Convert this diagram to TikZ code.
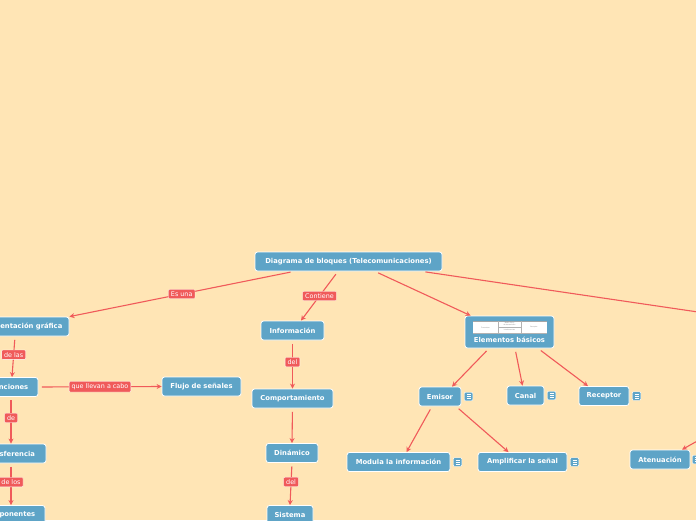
\documentclass[tikz,border=0pt]{standalone}
\usepackage{fontspec}
\setmainfont{DejaVu Sans}
\usetikzlibrary{arrows.meta}
\definecolor{bg}{RGB}{255,229,181}
\definecolor{nodeblue}{RGB}{94,164,199}
\definecolor{linkred}{RGB}{240,90,90}
\tikzset{
  concept/.style={draw=white, line width=0.8pt, fill=nodeblue, rounded corners=2.5pt,
    text=white, font=\fontsize{6.8}{7.5}\selectfont\bfseries, minimum height=19pt, inner sep=0pt},
  link/.style={draw=linkred, line width=1.1pt, shorten <=3.5pt, -{Stealth[length=5pt,width=5pt]}},
  plainlink/.style={draw=linkred, line width=1.1pt, shorten <=3.5pt},
  lbl/.style={fill=linkred, text=white, font=\fontsize{6.4}{7.2}\selectfont, inner xsep=2.5pt,
    inner ysep=2.2pt, rounded corners=1pt, draw=white, line width=0.3pt},
  note/.style={fill=nodeblue, draw=white, line width=0.4pt, rounded corners=1pt,
    minimum size=8.5pt, inner sep=0pt,
    path picture={
      \draw[white, line width=0.6pt]
        ([xshift=-2pt,yshift=2pt]path picture bounding box.center) -- ++(4pt,0)
        ([xshift=-2pt]path picture bounding box.center) -- ++(4pt,0)
        ([xshift=-2pt,yshift=-2pt]path picture bounding box.center) -- ++(4pt,0);}},
  tinytxt/.style={font=\fontsize{1.6}{1.8}\selectfont, text=gray, inner sep=0pt, align=center}
}
\begin{document}
\begin{tikzpicture}[x=1pt,y=-1pt]
\useasboundingbox (0,0) rectangle (696,520);
\clip (0,0) rectangle (696,520);
\fill[bg] (0,0) rectangle (696,520);

% concepts
\node[concept, minimum width=187pt] (root) at (348.5,261.5) {Diagrama de bloques (Telecomunicaciones)};
\node[concept, minimum width=102pt] (rep) at (18,326.5) {Representación gráfica};
\node[concept, minimum width=58pt] (fun) at (9,387) {Funciones};
\node[concept, minimum width=74pt] (trans) at (9,453.5) {Transferencia};
\node[concept, minimum width=72pt] (comp) at (9,515) {Componentes};
\node[concept, minimum width=79pt] (flujo) at (201.5,386.5) {Flujo de señales};
\node[concept, minimum width=63pt] (info) at (292.5,330.5) {Información};
\node[concept, minimum width=81pt] (compo) at (292.5,398.5) {Comportamiento};
\node[concept, minimum width=52pt] (din) at (292,453) {Dinámico};
\node[concept, minimum width=46pt] (sis) at (290,515) {Sistema};

\node[concept, minimum width=89pt, minimum height=32pt] (elem) at (509.5,332) {};
\node[text=white, font=\fontsize{6.8}{7.5}\selectfont\bfseries, inner sep=0pt] (elemtxt) at (509.5,339.5) {Elementos básicos};
% small embedded table
\fill[white] (473,321) rectangle (547,333);
\draw[gray!70, line width=0.8pt] (473,321.2) -- (547,321.2);
\draw[gray!60, line width=0.2pt] (498,321) -- (498,333) (521,321) -- (521,333) (498,327) -- (521,327)
  (473,333) -- (547,333);
\node[tinytxt] (t1) at (485.5,327.5) {Transmisor};
\node[tinytxt] (t2) at (509.5,324) {Medio físico\\de transmisión};
\node[tinytxt] (t3) at (509.5,330.3) {Interferencias};
\node[tinytxt] (t4) at (534,327) {Receptor};

\node[concept, minimum width=42pt] (emi) at (440,396.5) {Emisor};
\node[note] (n1) at (468.5,396.5) {};
\node[concept, minimum width=37pt] (can) at (525.5,395.5) {Canal};
\node[note] (n2) at (551.5,395.5) {};
\node[concept, minimum width=50pt] (rec) at (604,396) {Receptor};
\node[note] (n3) at (636.5,396) {};
\node[concept, minimum width=103pt] (mod) at (398.5,462) {Modula la información};
\node[note] (n4) at (457.5,462) {};
\node[concept, minimum width=89pt] (amp) at (522.5,462) {Amplificar la señal};
\node[note] (n5) at (574.5,462) {};
\node[concept, minimum width=60pt] (ate) at (660,459.5) {Atenuación};
\node[note] (n6) at (696.5,459.5) {};

\coordinate (offR) at (800,327);
\coordinate (offA) at (740,417);

% connectors
\draw[link] ([xshift=-54.5pt]root.south) -- (rep.north east) node[lbl, pos=0.5] {Es una};
\draw[link] ([xshift=-10.5pt]root.south) -- ([xshift=8.5pt]info.north) node[lbl, pos=0.5] {Contiene};
\draw[link] ([xshift=26.5pt]root.south) -- ([xshift=6pt]elem.north west);
\draw[plainlink] ([xshift=73.5pt]root.south) -- (offR);

\draw[link] ([xshift=-3pt]rep.south) -- ([xshift=3pt]fun.north) node[lbl, pos=0.45] {de las};
\draw[link] (fun.east) -- (flujo.west) node[lbl, pos=0.5] {que llevan a cabo};
\draw[link] ([xshift=2pt]fun.south) -- ([xshift=2pt]trans.north) node[lbl, pos=0.45] {de};
\draw[link] ([xshift=2pt]trans.south) -- ([xshift=2pt]comp.north) node[lbl, pos=0.45] {de los};

\draw[link] (info.south) -- (compo.north) node[lbl, pos=0.45] {del};
\draw[link] (compo.south) -- (din.north);
\draw[link] (din.south) -- (sis.north) node[lbl, pos=0.45] {del};

\draw[link] ([xshift=-20.5pt]elem.south) -- ([xshift=12pt]emi.north);
\draw[link] ([xshift=5.5pt]elem.south) -- ([xshift=-3pt]can.north);
\draw[link] ([xshift=28.5pt]elem.south) -- ([xshift=-16pt]rec.north);
\draw[link] ([xshift=-8pt]emi.south) -- ([xshift=8pt]mod.north);
\draw[link] ([xshift=16pt]emi.south) -- ([xshift=-14pt]amp.north);
\draw[link] (offA) -- ([xshift=22pt]ate.north);
\end{tikzpicture}
\end{document}
